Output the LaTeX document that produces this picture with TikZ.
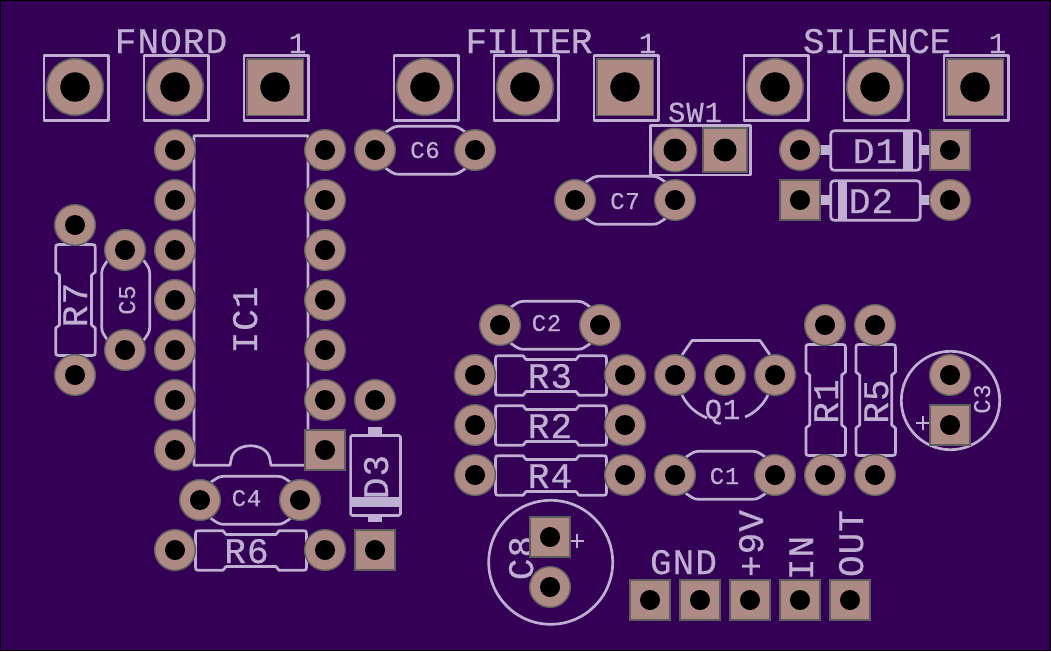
\documentclass[tikz,border=0pt]{standalone}
\usepackage{fontspec}
\newfontfamily\silkfont[LetterSpace=3,FakeBold=0.5]{Liberation Mono}
\newfontfamily\silkfontn[LetterSpace=-1.5,FakeBold=0.5]{Liberation Mono}
\definecolor{boardc}{HTML}{330055}
\definecolor{silkc}{HTML}{BFB0D2}
\definecolor{padc}{HTML}{AE8A85}
\definecolor{edgec}{HTML}{5E5E5E}
\tikzset{
  silk/.style={draw=silkc,line width=2.7pt,line join=round},
  bigt/.style={text=silkc,inner sep=0,anchor=base,font=\silkfont\fontsize{36}{36}\selectfont},
  bign/.style={text=silkc,inner sep=0,anchor=base,font=\silkfontn\fontsize{36}{36}\selectfont},
  midt/.style={text=silkc,inner sep=0,anchor=base,font=\silkfont\fontsize{29}{29}\selectfont},
  smallt/.style={text=silkc,inner sep=0,anchor=base,font=\silkfont\fontsize{24}{24}\selectfont},
  rpad/.style={circle,draw=edgec,fill=padc,line width=1.4pt,minimum size=40.8pt,inner sep=0},
  spad/.style={rectangle,draw=edgec,fill=padc,line width=1.4pt,minimum size=40.2pt,inner sep=0},
  rlarge/.style={circle,draw=edgec,fill=padc,line width=1.6pt,minimum size=56.6pt,inner sep=0},
  slarge/.style={rectangle,draw=edgec,fill=padc,line width=1.6pt,minimum size=56.6pt,inner sep=0},
  rswitch/.style={circle,draw=edgec,fill=padc,line width=1.4pt,minimum size=43.5pt,inner sep=0},
  sswitch/.style={rectangle,draw=edgec,fill=padc,line width=1.4pt,minimum size=44pt,inner sep=0},
}
\newcommand{\padR}[3]{\node[rpad] (#1) at (#2,#3) {}; \fill[black] (#1.center) circle[radius=10pt];}
\newcommand{\padS}[3]{\node[spad] (#1) at (#2,#3) {}; \fill[black] (#1.center) circle[radius=10pt];}
\newcommand{\padLR}[3]{\node[rlarge] (#1) at (#2,#3) {}; \fill[black] (#1.center) circle[radius=14.7pt];}
\newcommand{\padLS}[3]{\node[slarge] (#1) at (#2,#3) {}; \fill[black] (#1.center) circle[radius=14.7pt];}
\newcommand{\resbody}[3]{% centre x, centre y, rotation
  \begin{scope}[shift={(#1,#2)},rotate=#3]
  \draw[silk] (-28,-19.8) -- (-52,-19.8) .. controls (-55,-19.8) .. (-55.5,-16.5) -- (-55.5,16.5)
     .. controls (-55,19.8) .. (-52,19.8) -- (-28,19.8) -- (-25,16) -- (25,16) -- (28,19.8) -- (52,19.8)
     .. controls (55,19.8) .. (55.5,16.5) -- (55.5,-16.5) .. controls (55,-19.8) .. (52,-19.8) -- (28,-19.8)
     -- (25,-16) -- (-25,-16) -- cycle;
  \end{scope}}
\newcommand{\capbody}[3]{% centre x, centre y, rotation
  \begin{scope}[shift={(#1,#2)},rotate=#3]
  \draw[silk] (-40,-18) .. controls (-34,-22) and (-32,-24) .. (-27,-24) -- (27,-24) .. controls (32,-24) and (34,-22) .. (40,-18);
  \draw[silk] (-40,18) .. controls (-34,22) and (-32,24) .. (-27,24) -- (27,24) .. controls (32,24) and (34,22) .. (40,18);
  \end{scope}}
\begin{document}
\begin{tikzpicture}[x=1pt,y=-1pt]
\useasboundingbox (0,0) rectangle (1051,651);
\fill[black] (0,0) rectangle (1051,651);
\fill[boardc] (1,1) rectangle (1050,650);

% header outlines
\draw[silk] (44,55.5) rectangle (108.6,120.2);
\draw[silk] (144,55.5) rectangle (208.6,120.2);
\draw[silk] (244,55.5) rectangle (308.6,120.2);
\draw[silk] (394,55.5) rectangle (458.6,120.2);
\draw[silk] (494,55.5) rectangle (558.6,120.2);
\draw[silk] (594,55.5) rectangle (658.6,120.2);
\draw[silk] (744,55.5) rectangle (808.6,120.2);
\draw[silk] (844,55.5) rectangle (908.6,120.2);
\draw[silk] (944,55.5) rectangle (1008.6,120.2);
\draw[silk] (650.6,125.4) rectangle (750.4,175);

% IC1 outline with notch
\draw[silk] (230,465.3) -- (194,465.3) -- (194,135.7) -- (308,135.7) -- (308,465.3) -- (271,465.3)
   -- (270,460) .. controls (268,441) and (233,441) .. (231,460) -- cycle;

% capacitors
\capbody{425.7}{150.3}{0}
\capbody{625.7}{200.3}{0}
\capbody{125.7}{300.3}{90}
\capbody{250.7}{500.3}{0}
\capbody{550.7}{325.3}{0}
\capbody{725.7}{475.3}{0}
\draw[silk] (950.5,400.5) circle[radius=49.2pt];
\draw[silk] (550.7,562.3) circle[radius=62pt];
\draw[silk] (916,423) -- (930,423) (923,416) -- (923,430);
\draw[silk] (570,541) -- (584,541) (577,534) -- (577,548);

% resistors
\resbody{75.5}{300}{90}
\resbody{251}{550.5}{0}
\resbody{551}{375.5}{0}
\resbody{551}{425.5}{0}
\resbody{551}{475.5}{0}
\resbody{825.7}{400}{90}
\resbody{875.7}{400}{90}

% transistor
\draw[silk] (682,355) -- (692,340.5) -- (760,340.5) -- (770,355);
\draw[silk] (682,395) .. controls (687,405.6) and (696.2,413.5) .. (707,418);
\draw[silk] (768,395) .. controls (763,405.6) and (753.8,413.5) .. (745,417);

% diodes
\draw[silk,rounded corners=3.5pt] (830.7,130.7) rectangle (920.3,170.3);
\fill[silkc] (903,130) rectangle (913,171);
\fill[silkc] (820,145) rectangle (830,155);
\fill[silkc] (921,145) rectangle (931,155);
\draw[silk,rounded corners=3.5pt] (830.7,180.7) rectangle (920.3,220.3);
\fill[silkc] (838,180) rectangle (847,221);
\fill[silkc] (820,195) rectangle (830,205);
\fill[silkc] (921,195) rectangle (931,205);
\draw[silk,rounded corners=1.5pt] (350.6,435.4) rectangle (400.4,515.4);
\fill[silkc] (350,497) rectangle (401,507);
\fill[silkc] (368,427) rectangle (382,435);
\fill[silkc] (368,516) rectangle (382,522);

% labels
\node[bigt] (tfnord) at (171,53) {FNORD};
\node[bign] (tfilter) at (529,53) {FILTER};
\node[bign] (tsilence) at (877,53) {SILENCE};
\node[midt] (t1a) at (297.5,53) {1};
\node[midt] (t1b) at (647.5,53) {1};
\node[midt] (t1c) at (997.5,53) {1};
\node[midt] (tsw) at (695,122) {SW1};
\node[smallt] (tc6) at (425,158) {C6};
\node[smallt] (tc7) at (625,209) {C7};
\node[bigt] (td1) at (875,163) {D1};
\node[bigt] (td2) at (871,213) {D2};
\node[bigt,rotate=90] (tr7) at (87,305) {R7};
\node[smallt,rotate=90] (tc5) at (135,300) {C5};
\node[bigt,rotate=90] (tic) at (257,320) {IC1};
\node[bigt,rotate=90] (td3) at (388,477) {D3};
\node[smallt] (tc4) at (246.5,506) {C4};
\node[bigt] (tr6) at (246.5,563) {R6};
\node[smallt] (tc2) at (546.5,331) {C2};
\node[bigt] (tr3) at (550,388) {R3};
\node[bigt] (tr2) at (550,438) {R2};
\node[bigt] (tr4) at (550,488) {R4};
\node[midt] (tq) at (722.5,419) {Q1};
\node[smallt] (tc1) at (724.5,484) {C1};
\node[bigt,rotate=90] (tr1) at (838,401.5) {R1};
\node[bigt,rotate=90] (tr5) at (888,401.5) {R5};
\node[smallt,rotate=90] (tc3) at (990,399) {C3};
\node[bigt,rotate=90] (tc8) at (533,558) {C8};
\node[bigt] (tgnd) at (683.5,574) {GND};
\node[bigt,rotate=90] (t9v) at (763,543.5) {+9V};
\node[bigt,rotate=90] (tin) at (813,558) {IN};
\node[bigt,rotate=90] (tout) at (863,543.5) {OUT};

% large header pads
\padLR{h1}{75}{87}
\padLR{h2}{175}{87}
\padLS{h3}{275}{87}
\padLR{h4}{425}{87}
\padLR{h5}{525}{87}
\padLS{h6}{625}{87}
\padLR{h7}{775}{87}
\padLR{h8}{875}{87}
\padLS{h9}{975}{87}

% switch
\node[rswitch] (sw1a) at (675,150) {}; \fill[black] (sw1a.center) circle[radius=11.5pt];
\node[sswitch] (sw1b) at (725,150) {}; \fill[black] (sw1b.center) circle[radius=11.5pt];

% IC1 pads
\padR{ic1}{175}{150}
\padR{ic2}{175}{200}
\padR{ic3}{175}{250}
\padR{ic4}{175}{300}
\padR{ic5}{175}{350}
\padR{ic6}{175}{400}
\padR{ic7}{175}{450}
\padR{ic8}{325}{150}
\padR{ic9}{325}{200}
\padR{ic10}{325}{250}
\padR{ic11}{325}{300}
\padR{ic12}{325}{350}
\padR{ic13}{325}{400}
\padS{ic14}{325}{450}

% other pads
\padR{c6a}{375}{150}
\padR{c6b}{475}{150}
\padR{c7a}{575}{200}
\padR{c7b}{675}{200}
\padR{d1a}{800}{150}
\padS{d1b}{950}{150}
\padS{d2a}{800}{200}
\padR{d2b}{950}{200}
\padR{r7a}{75}{225}
\padR{r7b}{75}{375}
\padR{c5a}{125}{250}
\padR{c5b}{125}{350}
\padR{d3a}{375}{400}
\padS{d3b}{375}{550}
\padR{c4a}{200}{500}
\padR{c4b}{300}{500}
\padR{r6a}{175}{550}
\padR{r6b}{325}{550}
\padR{c2a}{500}{325}
\padR{c2b}{600}{325}
\padR{r3a}{475}{375}
\padR{r3b}{625}{375}
\padR{r2a}{475}{425}
\padR{r2b}{625}{425}
\padR{r4a}{475}{475}
\padR{r4b}{625}{475}
\padR{q1a}{675}{375}
\padR{q1b}{725}{375}
\padR{q1c}{775}{375}
\padR{c1a}{675}{475}
\padR{c1b}{775}{475}
\padR{r1a}{825}{325}
\padR{r1b}{825}{475}
\padR{r5a}{875}{325}
\padR{r5b}{875}{475}
\padR{c3a}{950}{375}
\padS{c3b}{950}{425}
\padS{c8a}{550}{537}
\padR{c8b}{550}{587}
\padS{j1}{650}{600}
\padS{j2}{700}{600}
\padS{j3}{750}{600}
\padS{j4}{800}{600}
\padS{j5}{850}{600}
\end{tikzpicture}
\end{document}
